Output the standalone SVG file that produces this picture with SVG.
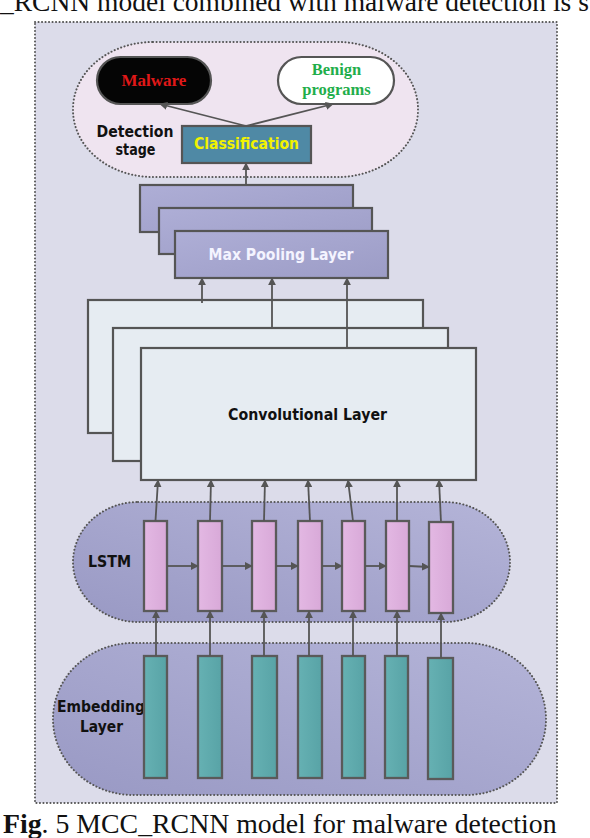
<svg xmlns="http://www.w3.org/2000/svg" width="590" height="838" viewBox="0 0 590 838">
<defs>
<style>
.dot{fill:none;stroke:#555;stroke-width:2;stroke-dasharray:0.1 3.4;stroke-linecap:round}
.box{stroke:#555;stroke-width:2.2}
.cell{stroke:#5a5a5a;stroke-width:2.3}
.sans{font-family:"DejaVu Sans","Liberation Sans",sans-serif;font-weight:bold}
.serif{font-family:"Liberation Serif","Times New Roman",serif}
.conn line,.conn path{stroke:#555;stroke-width:1.8;fill:none}
</style>
<linearGradient id="gPool" x1="0" y1="0" x2="1" y2="1">
<stop offset="0" stop-color="#aeaed6"/><stop offset="1" stop-color="#9c9cc6"/>
</linearGradient>
<linearGradient id="gPill" x1="0" y1="1" x2="1" y2="0">
<stop offset="0" stop-color="#9999c4"/><stop offset="1" stop-color="#b4b4d8"/>
</linearGradient>
<linearGradient id="gPink" x1="0" y1="0" x2="1" y2="0">
<stop offset="0" stop-color="#e3b8e3"/><stop offset="1" stop-color="#d8a9d8"/>
</linearGradient>
<linearGradient id="gTeal" x1="0" y1="0" x2="1" y2="0">
<stop offset="0" stop-color="#66b1b3"/><stop offset="1" stop-color="#58a3a6"/>
</linearGradient>
<marker id="arr" viewBox="0 0 10 10" refX="9" refY="5" markerWidth="8" markerHeight="8" markerUnits="userSpaceOnUse" orient="auto">
<path d="M0,0 L10,5 L0,10 z" fill="#555"/>
</marker>
</defs>
<rect width="590" height="838" fill="#fff"/>
<text class="serif" x="0" y="11" font-size="27.5" fill="#111">_RCNN model combined with malware detection is s</text>

<g id="frame">
<rect x="35" y="22" width="522" height="781" fill="#dcdcea"/>
<rect x="35" y="22" width="522" height="781" class="dot"/>
</g>

<g id="detection-stage">
<rect x="73" y="42" width="345" height="135" rx="80" ry="67" fill="#efe4f0"/>
<rect x="73" y="42" width="345" height="135" rx="80" ry="67" class="dot"/>
<text class="sans" x="135" y="136.5" font-size="15" text-anchor="middle" fill="#111" textLength="77" lengthAdjust="spacingAndGlyphs">Detection</text>
<text class="sans" x="135.5" y="155" font-size="15" text-anchor="middle" fill="#111" textLength="40" lengthAdjust="spacingAndGlyphs">stage</text>
</g>

<g id="malware">
<rect x="97" y="57" width="114" height="47" rx="23.5" fill="#050505" stroke="#555" stroke-width="2.2"/>
<text class="serif" x="154" y="86" font-size="17" font-weight="bold" text-anchor="middle" fill="#e01818">Malware</text>
</g>

<g id="benign">
<rect x="278" y="57" width="116" height="47" rx="23.5" fill="#fff" stroke="#555" stroke-width="2.2"/>
<text class="serif" x="336.5" y="75" font-size="16.5" font-weight="bold" text-anchor="middle" fill="#1fae4b">Benign</text>
<text class="serif" x="336.5" y="95" font-size="16.5" font-weight="bold" text-anchor="middle" fill="#1fae4b">programs</text>
</g>

<g id="classification">
<rect x="182" y="126" width="129" height="37" fill="#4f89a5" class="box"/>
<text class="sans" x="246.5" y="149.3" font-size="15" text-anchor="middle" fill="#f2f200" textLength="105" lengthAdjust="spacingAndGlyphs" font-weight="normal">Classification</text>
</g>

<g id="max-pooling">
<rect x="140" y="185" width="213" height="47" fill="url(#gPool)" class="box"/>
<rect x="159" y="208" width="213" height="46" fill="url(#gPool)" class="box"/>
<rect x="175" y="231" width="213" height="47" fill="url(#gPool)" class="box"/>
<text class="sans" x="281" y="260" font-size="15.5" text-anchor="middle" fill="#f4f4ff" textLength="145" lengthAdjust="spacingAndGlyphs" font-weight="normal">Max Pooling Layer</text>
</g>

<g id="convolutional">
<rect x="88" y="300" width="335" height="133" fill="#e6ecf2" class="box"/>
<rect x="113" y="328" width="335" height="133" fill="#e6ecf2" class="box"/>
<rect x="141" y="348" width="335" height="132" fill="#e6ecf2" class="box"/>
<text class="sans" x="307.5" y="419.5" font-size="15.5" text-anchor="middle" fill="#111" textLength="159" lengthAdjust="spacingAndGlyphs">Convolutional Layer</text>
</g>

<g id="lstm">
<rect x="73" y="502" width="437" height="120" rx="65" ry="60" fill="url(#gPill)"/>
<rect x="73" y="502" width="437" height="120" rx="65" ry="60" class="dot"/>
<text class="sans" x="109.5" y="567.3" font-size="15.5" text-anchor="middle" fill="#111" textLength="43" lengthAdjust="spacingAndGlyphs">LSTM</text>
<rect x="144" y="521" width="23" height="90" fill="url(#gPink)" class="cell"/>
<rect x="198" y="521" width="24" height="90" fill="url(#gPink)" class="cell"/>
<rect x="252" y="521" width="24" height="90" fill="url(#gPink)" class="cell"/>
<rect x="298" y="521" width="24" height="90" fill="url(#gPink)" class="cell"/>
<rect x="342" y="521" width="23" height="90" fill="url(#gPink)" class="cell"/>
<rect x="386" y="521" width="23" height="90" fill="url(#gPink)" class="cell"/>
<rect x="429" y="522" width="24" height="91" fill="url(#gPink)" class="cell"/>
</g>

<g id="embedding">
<rect x="53" y="643" width="493" height="152" rx="80" ry="76" fill="url(#gPill)"/>
<rect x="53" y="643" width="493" height="152" rx="80" ry="76" class="dot"/>
<text class="sans" x="101" y="712.3" font-size="15.5" text-anchor="middle" fill="#111" textLength="88" lengthAdjust="spacingAndGlyphs">Embedding</text>
<text class="sans" x="101.5" y="732" font-size="15.5" text-anchor="middle" fill="#111" textLength="43" lengthAdjust="spacingAndGlyphs">Layer</text>
<rect x="144" y="656" width="23" height="122" fill="url(#gTeal)" class="cell"/>
<rect x="198" y="656" width="24" height="122" fill="url(#gTeal)" class="cell"/>
<rect x="252" y="656" width="25" height="122" fill="url(#gTeal)" class="cell"/>
<rect x="298" y="656" width="24" height="122" fill="url(#gTeal)" class="cell"/>
<rect x="342" y="656" width="23" height="122" fill="url(#gTeal)" class="cell"/>
<rect x="385" y="656" width="23" height="122" fill="url(#gTeal)" class="cell"/>
<rect x="428" y="658" width="25" height="121" fill="url(#gTeal)" class="cell"/>
</g>

<g id="connectors" class="conn">
<line x1="246" y1="126" x2="160" y2="104" marker-end="url(#arr)"/>
<line x1="246" y1="126" x2="333" y2="104" marker-end="url(#arr)"/>
<line x1="246" y1="185" x2="246" y2="163" marker-end="url(#arr)"/>
<line x1="202" y1="303" x2="202" y2="278" marker-end="url(#arr)"/>
<line x1="272" y1="328" x2="272" y2="278" marker-end="url(#arr)"/>
<line x1="347" y1="348" x2="347" y2="278" marker-end="url(#arr)"/>
<line x1="155.5" y1="521" x2="158" y2="480" marker-end="url(#arr)"/>
<line x1="210" y1="521" x2="211" y2="480" marker-end="url(#arr)"/>
<line x1="264" y1="521" x2="265" y2="480" marker-end="url(#arr)"/>
<line x1="310" y1="521" x2="308" y2="480" marker-end="url(#arr)"/>
<line x1="353" y1="521" x2="348" y2="480" marker-end="url(#arr)"/>
<line x1="397" y1="521" x2="397" y2="480" marker-end="url(#arr)"/>
<line x1="441" y1="522" x2="439" y2="480" marker-end="url(#arr)"/>
<line x1="167" y1="566" x2="198" y2="566" marker-end="url(#arr)"/>
<line x1="222" y1="566" x2="252" y2="566" marker-end="url(#arr)"/>
<line x1="276" y1="566" x2="298" y2="566" marker-end="url(#arr)"/>
<line x1="322" y1="566" x2="342" y2="566" marker-end="url(#arr)"/>
<line x1="365" y1="566" x2="386" y2="566" marker-end="url(#arr)"/>
<line x1="409" y1="566" x2="429" y2="567" marker-end="url(#arr)"/>
<line x1="156" y1="656" x2="156" y2="611" marker-end="url(#arr)"/>
<line x1="210" y1="656" x2="210" y2="611" marker-end="url(#arr)"/>
<line x1="264" y1="656" x2="264" y2="611" marker-end="url(#arr)"/>
<line x1="309" y1="656" x2="309" y2="611" marker-end="url(#arr)"/>
<line x1="353" y1="656" x2="353" y2="611" marker-end="url(#arr)"/>
<line x1="397" y1="656" x2="397" y2="611" marker-end="url(#arr)"/>
<line x1="441" y1="658" x2="441" y2="613" marker-end="url(#arr)"/>
</g>

<text class="serif" x="3" y="832.5" font-size="27.8" fill="#111"><tspan font-weight="bold">Fig</tspan>. 5 MCC_RCNN model for malware detection</text>
</svg>
